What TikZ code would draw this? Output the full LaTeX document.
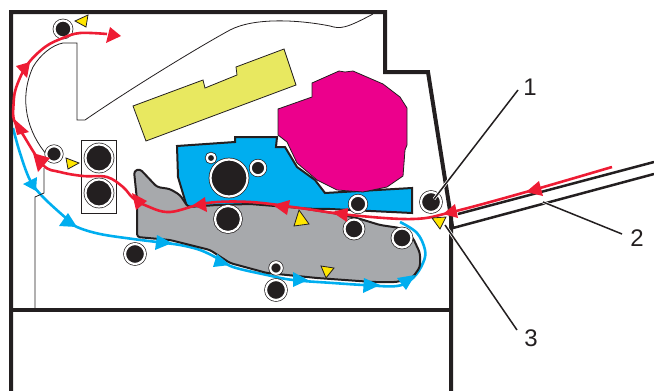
\documentclass[tikz,border=0pt]{standalone}
\usepackage{fontspec}
\setmainfont{Liberation Sans}
\usepackage{tikz}
\usetikzlibrary{calc}
\definecolor{ink}{HTML}{231F20}
\definecolor{redflow}{HTML}{EE1C34}
\definecolor{blueflow}{HTML}{00AEEF}
\definecolor{drum}{HTML}{EC008C}
\definecolor{laser}{HTML}{E8E860}
\definecolor{belt}{HTML}{A7A9AC}
\definecolor{marker}{HTML}{FFE600}
\tikzstyle{frame} = [ink, line width=4pt, miter limit=10]
\tikzstyle{thinline} = [ink, line width=0.8pt]
\tikzstyle{part} = [draw=ink, line width=2pt, line join=miter]
\tikzstyle{roller} = [circle, inner sep=0pt, draw=ink, fill=ink, line width=0.7pt, double=white, double distance=2.2pt]
\tikzstyle{sensor} = [draw=ink, line width=0.8pt, fill=marker]
\tikzstyle{leader} = [ink, line width=1.5pt, preaction={draw=white, line width=3pt}]
\tikzstyle{callout} = [inner sep=0pt, font=\fontsize{24}{24}\selectfont, text=ink]
\tikzstyle{redpath} = [redflow, line width=2.6pt]
\tikzstyle{bluepath} = [blueflow, line width=2.6pt]
\begin{document}
\begin{tikzpicture}[x=1pt, y=-1pt]
    \useasboundingbox (0,0) rectangle (654,391);
    % parts
    \draw[part, fill=blueflow] (177,146)--(235,142)--(235,137)--(277,137)--(276,147)--(285,147)--(297,167)--(315,180)--(325,193)--(412,188)--(412,213)--(330,209)--(187,207)--(178,177)--cycle;
    \draw[thinline, fill=drum] (278,109)--(312,97)--(312,83)--(339,71)--(345,72)--(353,71)--(383,84)--(400,97)--(407,108)--(407,145)--(405,150)--(403,176)--(387,187)--(363,192)--(337,190)--(317,180)--(297,163)--(287,142)--(278,135)--cycle;
    \draw[thinline, fill=laser] (133,106)--(203,80)--(205,88)--(237,75)--(236,67)--(284,49)--(296,85)--(146,141)--cycle;
    \draw[bluepath] plot[smooth, tension=.6] coordinates {(13,128) (20,153) (30,180) (43,197) (67,219) (77,227) (100,234) (133,239) (157,242) (180,245) (200,250) (217,258) (233,267) (267,275) (293,280) (333,283) (364,285) (397,286) (413,278) (423,263) (425,250) (417,233) (400,222)};
    \draw[part, rounded corners=3pt, fill=belt] (134,171)--(140,169)--(157,187)--(170,189)--(180,195)--(188,207)--(217,205)--(250,204)--(300,208)--(333,213)--(357,218)--(380,225)--(400,228)--(413,238)--(420,253)--(420,267)--(413,277)--(397,282)--(373,282)--(317,278)--(267,273)--(230,263)--(210,250)--(170,240)--(137,237)--(137,200)--cycle;
    % frame
    \draw[frame] (11,391)--(11,12)--(385,12)--(385,72)--(428,72)--(451,217)--(451,391);
    \draw[frame] (11,310)--(451,310);
    \draw[ink, line width=2.5pt] (458,214)--(654,162);
    \draw[ink, line width=2.5pt] (654,174)--(453,228)--(452,221);
    % guides
    \draw[thinline] (47,155) .. controls (28,133) and (18,100) .. (33,67) .. controls (40,55) and (52,45) .. (63,43)--(77,43)--(77,120)--(85,120) .. controls (130,89) and (197,48) .. (230,30) .. controls (255,17) and (300,20) .. (330,26) .. controls (340,29) and (345,29) .. (373,14);
    \draw[thinline] (44,168)--(44,193)--(35,197)--(35,308);
    \draw[thinline] (81,140) rectangle (116,213);
    % rollers
    \foreach \n/\x/\y/\d in {a/63/29/17, b/54/154/15.5, c/99/158/27, d/99/193/27, e/135/254/20, f/229/178/37, g/211/158/8.5, h/258/168/14.5, k/228/219/26, m/358/204/16.5, n/354/229/19, o/402/238/19, p/276/268/11.5, q/276/290/20, s/431/202/20}
      \node (\n)[roller, minimum size=\d pt] at (\x,\y){};
    % paper path
    \coordinate (in) at (612,167);
    \coordinate (out) at (107,34);
    \draw[redpath] plot[smooth, tension=.6] coordinates {(in) (526,192) (452,212) (413,219) (350,215) (300,208) (250,202) (207,203) (170,212) (147,206) (133,198) (123,187) (107,177) (83,176) (60,172) (43,165) (22,133) (14,120) (13.5,105) (16,88) (27,65) (45,47) (63,38) (80,33) (out)};
    \foreach \xa/\ya/\xb/\yb/\xc/\yc in {121/36/110/27/106/43, 30/62/16/66/27/78, 13/118/29/132/17/135, 33/153/50/158/38/172, 132/193/147/201/136/210, 193/205/205/197/207/212, 273/205/290/200/287/215, 332/212/348/208/347/222, 443/214/455/204/458/218, 526/192/539/181/543/196}
      \fill[redflow] (\xa,\ya)--(\xb,\yb)--(\xc,\yc)--cycle;
    \foreach \xa/\ya/\xb/\yb/\xc/\yc in {36/191/23/184/37/177, 77/227/68/213/59/226, 172/243/157/235/155/250, 230/265/217/254/213/267, 308/280/293/272/293/287, 380/285/364/278/363/293, 406/290/397/278/415/275}
      \fill[blueflow] (\xa,\ya)--(\xb,\yb)--(\xc,\yc)--cycle;
    % sensors
    \foreach \xa/\ya/\xb/\yb/\xc/\yc in {75/21/88/15/86/27, 66/158/79/163/68/169, 299/210/309/224/294/226, 321/266/334/268/326/278, 432/218/446/217/440/229}
      \draw[sensor] (\xa,\ya)--(\xb,\yb)--(\xc,\yc)--cycle;
    % callouts
    \node (l1)[callout] at (530,87){1};
    \node (l2)[callout] at (637,238){2};
    \node (l3)[callout] at (531,338){3};
    \coordinate (t2) at (543,202);
    \coordinate (t3) at (445,225);
    \draw[leader] ($(l1)+(-12,3)$) -- ($(s.center)+(3,-3)$);
    \draw[leader] ($(l2)+(-15,-4)$) -- (t2);
    \draw[leader] ($(l3)+(-14,-8)$) -- (t3);
\end{tikzpicture}
\end{document}
